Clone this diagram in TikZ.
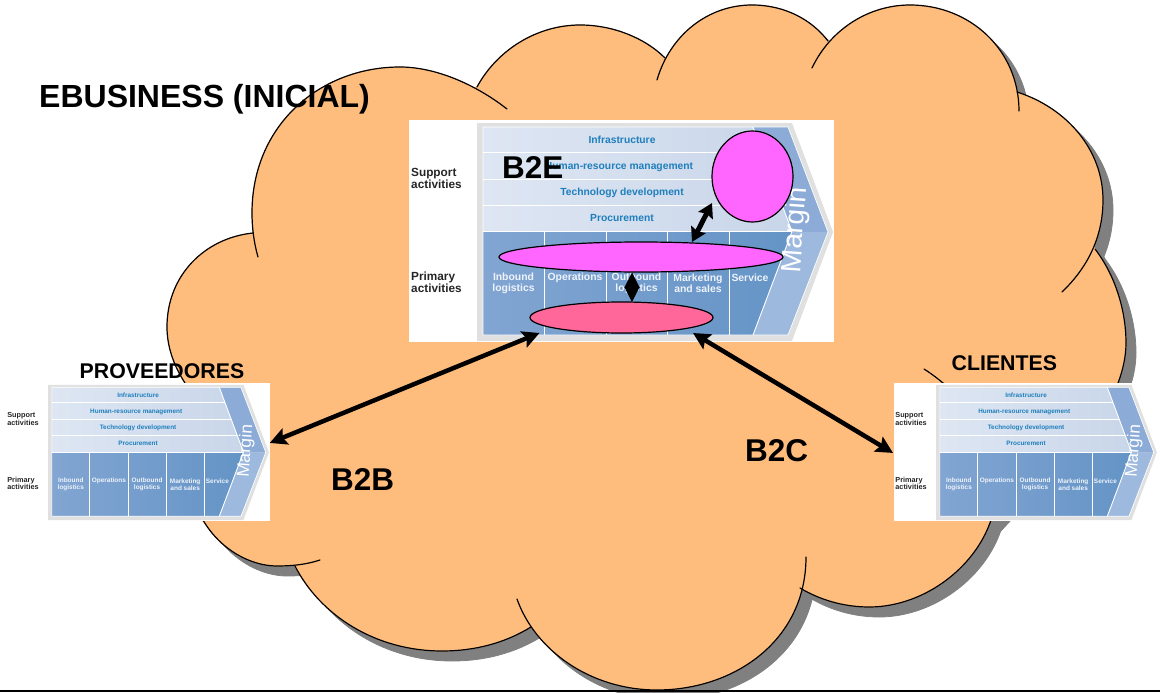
\documentclass[tikz,border=0pt]{standalone}
\usepackage{fontspec}
\setmainfont{Liberation Sans}
\usetikzlibrary{arrows.meta,calc,shapes.geometric}
\definecolor{cloudtone}{HTML}{FFBD7D}
\definecolor{cloudshade}{HTML}{808080}
\definecolor{blobmag}{HTML}{FF66FF}
\definecolor{blobpink}{HTML}{FF6699}
\definecolor{rowtext}{HTML}{1F7FBC}
\definecolor{primtext}{HTML}{EEF3FA}
\tikzset{
  cloudline/.style={draw=black,line width=1.2pt,line cap=round},
  whitebox/.style={fill=white,draw=none,inner sep=0pt,minimum width=425pt,minimum height=222pt,anchor=north west},
  rowlabel/.style={text=rowtext,font=\fontsize{10.3}{11}\selectfont\bfseries,inner sep=0pt},
  primlabel/.style={text=primtext,font=\fontsize{10.4}{11.5}\selectfont\bfseries,inner sep=0pt,align=center},
  sidelabel/.style={text=black!85,font=\fontsize{11.8}{12}\selectfont\bfseries,inner sep=0pt,align=left,anchor=west},
  biglabel/.style={font=\fontsize{32}{34}\selectfont\bfseries,inner sep=0pt,anchor=base west},
  blob/.style={ellipse,draw=black,line width=1.2pt,inner sep=0pt},
  bigarrow/.style={line width=4.5pt,{Stealth[length=17pt,width=17pt,inset=3pt]}-{Stealth[length=17pt,width=17pt,inset=3pt]}},
  midarrow/.style={line width=5pt,{Stealth[length=14pt,width=16pt,inset=2pt]}-{Stealth[length=14pt,width=16pt,inset=2pt]}},
  diaarrow/.style={line width=1pt,{Stealth[length=15pt,width=15pt,inset=0pt]}-{Stealth[length=15pt,width=15pt,inset=0pt]}},
}
\newcommand\lobefill[1]{\filldraw[fill=cloudtone,draw=cloudtone,line width=.8pt] #1 -- cycle;}
\newcommand\lobeshade[1]{\filldraw[fill=cloudshade,draw=cloudshade,line width=.8pt] #1 -- cycle;}
\newcommand\lobestroke[1]{\draw[cloudline] #1;}
\newcommand\alllobes[1]{%
 #1{(185,383) .. controls (174,366) and (167,347) .. (167,327) .. controls (167,275) and (205,238) .. (253,233)}%
 #1{(258,257) .. controls (254,243) and (252,228) .. (252,213) .. controls (252,125) and (320,67) .. (400,67) .. controls (435,67) and (475,84) .. (507,109)}%
 #1{(477,87) .. controls (497,50) and (537,25) .. (580,25) .. controls (613,25) and (645,38) .. (665,58)}%
 #1{(657,80) .. controls (670,35) and (708,5) .. (752,5) .. controls (785,5) and (812,20) .. (828,41)}%
 #1{(812,68) .. controls (830,30) and (868,5) .. (910,5) .. controls (970,5) and (1019,50) .. (1019,111)}%
 #1{(1017,92) .. controls (1067,108) and (1103,150) .. (1103,200) .. controls (1103,240) and (1085,270) .. (1062,292)}%
 #1{(1095,249) .. controls (1115,275) and (1126,310) .. (1126,343) .. controls (1126,356) and (1123,370) .. (1118,383) .. controls (1105,425) and (1085,455) .. (1060,480)}%
 #1{(924,369) .. controls (965,395) and (996,440) .. (996,490) .. controls (996,550) and (935,607) .. (869,607) .. controls (844,607) and (820,600) .. (800,588)}%
 #1{(517,599) .. controls (535,650) and (590,690) .. (657,690) .. controls (735,690) and (806,640) .. (806,557)}%
 #1{(295,566) .. controls (320,615) and (375,651) .. (442,651) .. controls (475,651) and (505,643) .. (531,627)}%
 #1{(320,560) .. controls (305,565) and (290,566) .. (277,566) .. controls (238,566) and (190,530) .. (190,470)}%
}
\newcommand\corepoly{(253,233) -- (477,87) -- (665,58) -- (828,41) -- (1017,92) -- (1095,249) -- (1118,383) -- (990,522) -- (800,588) -- (531,627) -- (295,566) -- (202,521) -- (185,383) -- cycle}
\newcommand\valuechain[4]{%
 \node[whitebox,scale=#4] (#1) at (#2,#3) {};
 \begin{scope}[shift={(#2,#3)},scale=#4,transform shape]
  \fill[black!12] (68,3) -- (383,3) -- (424,112) -- (383,221) -- (68,221) -- cycle;
  \shade[left color={rgb,255:red,222;green,230;blue,243},right color={rgb,255:red,200;green,214;blue,233}] (74,7) -- (344,7) -- (383,111) -- (74,111) -- cycle;
  \shade[left color={rgb,255:red,130;green,165;blue,210},right color={rgb,255:red,100;green,148;blue,198}] (74,112) -- (383,112) -- (344,215) -- (74,215) -- cycle;
  \fill[fill={rgb,255:red,140;green,172;blue,215}] (344,7) -- (379,7) -- (419,112) -- (383,112) -- cycle;
  \fill[fill={rgb,255:red,157;green,185;blue,222}] (383,112) -- (419,112) -- (379,215) -- (344,215) -- cycle;
  \draw[white,line width=.9pt] (74,32) -- (353,32) (74,59) -- (363.5,59) (74,85) -- (373,85) (74,111.5) -- (383,111.5);
  \draw[white,line width=.9pt] (135,112) -- (135,215) (197,112) -- (197,215) (258,112) -- (258,215) (320,112) -- (320,215);
  \draw[white,line width=.9pt] (344,7) -- (383,111.5) -- (344,215);
  \draw[white,line width=.7pt] (74,7) -- (379,7) -- (419,112) -- (379,215) -- (74,215) -- cycle;
  \node[rowlabel] (#1-a) at (213,20) {Infrastructure};
  \node[rowlabel] (#1-b) at (210,47) {Human-resource management};
  \node[rowlabel] (#1-c) at (213,72.5) {Technology development};
  \node[rowlabel] (#1-d) at (213,98) {Procurement};
  \node[primlabel] (#1-e) at (104.5,163.5) {Inbound\\logistics};
  \node[primlabel] (#1-f) at (166,158) {Operations};
  \node[primlabel] (#1-g) at (227.5,163.5) {Outbound\\logistics};
  \node[primlabel] (#1-h) at (289,163.5) {Marketing\\and sales};
  \node[primlabel] (#1-i) at (341,158) {Service};
  \node[sidelabel] (#1-s) at (2,58) {Support\\activities};
  \node[sidelabel] (#1-p) at (2,162) {Primary\\activities};
  \node[text=white,font=\fontsize{28}{28}\selectfont,inner sep=0pt,rotate=86] (#1-m) at (387,110) {Margin};
 \end{scope}
}
\begin{document}
\begin{tikzpicture}[x=1pt,y=-1pt]
\useasboundingbox (0,0) rectangle (1160,693);
\begin{scope}[shift={(10,10)}]
 \alllobes\lobeshade
 \filldraw[fill=cloudshade,draw=cloudshade,line width=.8pt] \corepoly;
\end{scope}
\alllobes\lobefill
\filldraw[fill=cloudtone,draw=cloudtone,line width=.8pt] \corepoly;
\alllobes\lobestroke
\node[biglabel] (title) at (39,107) {EBUSINESS (INICIAL)};
\valuechain{bigbox}{409}{120}{1}
\valuechain{prov}{6}{383}{.62}
\valuechain{cli}{894}{383}{.62}
\node[blob,fill=blobmag,minimum width=81pt,minimum height=91pt] (c1) at (752.5,176.5) {};
\node[blob,fill=blobmag,minimum width=284pt,minimum height=30pt] (e1) at (641,257) {};
\node[blob,fill=blobpink,minimum width=183pt,minimum height=31pt] (e2) at (621.5,317.5) {};
\draw[midarrow] ($(c1)+(-40.5,26.5)$) -- ($(e1)+(51,-15)$);
\draw[diaarrow] ($(e1)+(-9,15.5)$) -- ($(e2)+(10.5,-15.5)$);
\draw[bigarrow] ($(prov.east)+(0,-9)$) -- ($(e2)+(-82,15.5)$);
\draw[bigarrow] ($(e2)+(71.5,15.5)$) -- ($(cli.west)+(-1,1)$);
\node[biglabel,font=\fontsize{31.5}{34}\selectfont\bfseries] (b2e) at (502,178) {B2E};
\node[biglabel,font=\fontsize{31.5}{34}\selectfont\bfseries] (b2b) at (331,490) {B2B};
\node[biglabel,font=\fontsize{31.5}{34}\selectfont\bfseries] (b2c) at (745,461) {B2C};
\node[biglabel,font=\fontsize{21.3}{22}\selectfont\bfseries] (provl) at (79.5,378) {PROVEEDORES};
\node[biglabel,font=\fontsize{21.3}{22}\selectfont\bfseries] (clil) at (951.5,370) {CLIENTES};
\coordinate (rulea) at (0,691);
\coordinate (ruleb) at (1160,691);
\draw[line width=2pt,black] (rulea) -- (ruleb);
\end{tikzpicture}
\end{document}
